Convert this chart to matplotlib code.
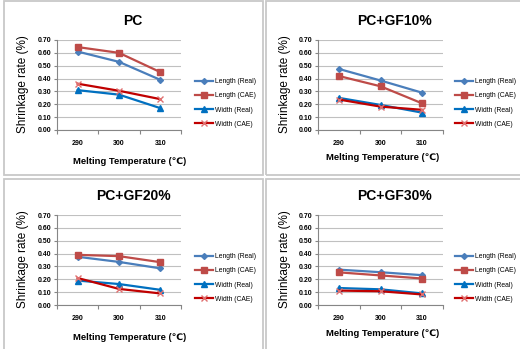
import matplotlib
matplotlib.use("Agg")
import matplotlib.pyplot as plt
from matplotlib.patches import Rectangle

plt.rcParams['font.family'] = ['Liberation Sans', 'DejaVu Sans']

# data
temps = ['290', '300', '310']
titles = ['PC', 'PC+GF10%', 'PC+GF20%', 'PC+GF30%']
series_names = ['Length (Real)', 'Length (CAE)', 'Width (Real)', 'Width (CAE)']

length_real = [[0.61, 0.53, 0.39], [0.475, 0.385, 0.29], [0.375, 0.335, 0.285], [0.275, 0.255, 0.232]]
length_cae = [[0.645, 0.60, 0.45], [0.42, 0.34, 0.207], [0.39, 0.38, 0.333], [0.254, 0.23, 0.206]]
width_real = [[0.31, 0.275, 0.17], [0.25, 0.195, 0.135], [0.19, 0.163, 0.118], [0.132, 0.122, 0.09]]
width_cae = [[0.36, 0.305, 0.24], [0.237, 0.182, 0.157], [0.21, 0.125, 0.09], [0.112, 0.107, 0.082]]

yticks = [0.0, 0.1, 0.2, 0.3, 0.4, 0.5, 0.6, 0.7]

styles = [
    dict(color='#4a7ebb', marker='D', ms=3, mfc='#4a7ebb', mec='#4a7ebb'),
    dict(color='#be4b48', marker='s', ms=5, mfc='#be4b48', mec='#be4b48'),
    dict(color='#0070c0', marker='^', ms=5, mfc='#0070c0', mec='#0070c0'),
    dict(color='#c00000', marker='x', ms=5, mfc='#e07070', mec='#e07070', mew=1.0),
]

W, H = 520, 349
fig = plt.figure(figsize=(W / 100, H / 100), dpi=100)


def fx(px):
    return px / W


def fy(py):
    return 1 - py / H


# panel frames (pixel boxes) and plot area positions
panels = [
    dict(box=(4, 1, 263, 175), ox=0, oy=0, ax=(57, 40, 181, 130), xl=(130, 161), tt=(133, 21), yl=23),
    dict(box=(266, 1, 530, 175), ox=260, oy=0, ax=(318, 40, 443, 130), xl=(383, 157), tt=(395, 21), yl=285),
    dict(box=(4, 179, 263, 360), ox=0, oy=175, ax=(57, 215, 181, 305), xl=(130, 337), tt=(133, 196), yl=23),
    dict(box=(266, 179, 530, 360), ox=260, oy=175, ax=(318, 215, 443, 305), xl=(383, 333), tt=(395, 196), yl=285),
]

for i, p in enumerate(panels):
    x0, y0, x1, y1 = p['box']
    fig.patches.append(Rectangle((fx(x0), fy(y1)), fx(x1 - x0), (y1 - y0) / H,
                                 transform=fig.transFigure, fill=False,
                                 edgecolor='#c8c8c8', linewidth=1.3))
    a0, b0, a1, b1 = p['ax']
    ax = fig.add_axes([fx(a0), fy(b1), fx(a1 - a0), (b1 - b0) / H])
    xs = range(len(temps))
    data = [length_real[i], length_cae[i], width_real[i], width_cae[i]]
    lines = []
    for name, vals, st in zip(series_names, data, styles):
        ln, = ax.plot(xs, vals, lw=1.6, label=name, **st)
        lines.append(ln)

    ax.set_xlim(-0.5, 2.5)
    ax.set_ylim(0, 0.7)
    ax.set_yticks(yticks)
    ax.set_yticklabels([f'{v:.2f}' for v in yticks], fontsize=5, fontweight='bold')
    ax.set_xticks(list(xs))
    ax.set_xticklabels(temps, fontsize=5, fontweight='bold')
    ax.set_xticks([-0.5, 0.5, 1.5, 2.5], minor=True)
    ax.tick_params(axis='x', which='major', length=0, pad=7)
    ax.tick_params(axis='x', which='minor', length=3, color='#868686', width=0.8)
    ax.tick_params(axis='y', length=2, color='#868686', width=0.8, pad=2)
    ax.grid(axis='y', color='#c0c0c0', linewidth=0.8)
    ax.set_axisbelow(True)
    for s in ['top', 'right']:
        ax.spines[s].set_visible(False)
    for s in ['left', 'bottom']:
        ax.spines[s].set_color('#868686')
        ax.spines[s].set_linewidth(0.8)

    fig.text(fx(p['tt'][0]), fy(p['tt'][1]), titles[i], ha='center', va='center',
             fontsize=10, fontweight='bold')
    fig.text(fx(p['xl'][0]), fy(p['xl'][1]), 'Melting Temperature (\u2103)', ha='center',
             va='center', fontsize=6.8, fontweight='bold')
    fig.text(fx(p['yl']), fy(p['oy'] + 84), 'Shrinkage rate (%)', ha='center', va='center',
             rotation=90, fontsize=8.5)

    fig.legend(handles=lines, loc='center left', fontsize=4.9, frameon=False,
               bbox_to_anchor=(fx(p['ox'] + 195), fy(p['oy'] + 103)),
               handlelength=2.6, labelspacing=1.05, handletextpad=0.4,
               borderaxespad=0, borderpad=0)

fig.savefig('out.png', dpi=100)
